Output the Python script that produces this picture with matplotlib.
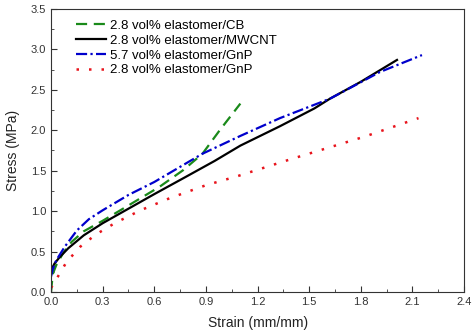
import matplotlib
matplotlib.use("Agg")
import matplotlib.pyplot as plt
from matplotlib.ticker import MultipleLocator

plt.rcParams["font.family"] = ["Liberation Sans", "DejaVu Sans"]

# strain (mm/mm) / stress (MPa)
cb_strain = [0.0, 0.01, 0.03, 0.07, 0.12, 0.19, 0.3, 0.45, 0.63, 0.77, 0.88, 0.98, 1.1]
cb_stress = [0.0, 0.22, 0.33, 0.48, 0.62, 0.75, 0.88, 1.07, 1.30, 1.51, 1.71, 2.0, 2.33]

mwcnt_strain = [0.0, 0.02, 0.05, 0.1, 0.19, 0.3, 0.4, 0.5, 0.6, 0.78, 0.95, 1.1, 1.33, 1.53, 1.62, 1.8, 2.01]
mwcnt_stress = [0.27, 0.35, 0.43, 0.54, 0.70, 0.85, 0.97, 1.09, 1.21, 1.42, 1.62, 1.81, 2.05, 2.27, 2.39, 2.60, 2.87]

gnp57_strain = [0.0, 0.01, 0.03, 0.08, 0.15, 0.22, 0.3, 0.45, 0.6, 0.88, 1.1, 1.33, 1.62, 1.91, 2.155]
gnp57_stress = [0.19, 0.28, 0.39, 0.56, 0.76, 0.90, 1.01, 1.20, 1.36, 1.71, 1.93, 2.15, 2.39, 2.72, 2.93]

gnp28_strain = [0.0, 0.02, 0.04, 0.09, 0.17, 0.26, 0.37, 0.52, 0.69, 0.9, 1.08, 1.39, 1.82, 2.135]
gnp28_stress = [0.05, 0.12, 0.19, 0.37, 0.56, 0.71, 0.85, 1.01, 1.16, 1.32, 1.43, 1.64, 1.92, 2.15]

labels = ["2.8 vol% elastomer/CB", "2.8 vol% elastomer/MWCNT",
          "5.7 vol% elastomer/GnP", "2.8 vol% elastomer/GnP"]

fig = plt.figure(figsize=(4.77, 3.34), dpi=100)
ax = fig.add_axes([0.107, 0.126, 0.866, 0.847])

ax.plot(cb_strain, cb_stress, color="#1a8a1a", lw=1.6, linestyle=(0, (5, 3)), label=labels[0])
ax.plot(mwcnt_strain, mwcnt_stress, color="black", lw=1.6, label=labels[1])
ax.plot(gnp57_strain, gnp57_stress, color="#0000cc", lw=1.6,
        linestyle=(0, (5, 1.5, 1, 1.5)), label=labels[2])
ax.plot(gnp28_strain, gnp28_stress, color="#e8141c", lw=1.8,
        linestyle=(0, (1, 4)), label=labels[3])

ax.set_xlim(0, 2.4)
ax.set_ylim(0, 3.5)
ax.xaxis.set_major_locator(MultipleLocator(0.3))
ax.xaxis.set_minor_locator(MultipleLocator(0.15))
ax.yaxis.set_major_locator(MultipleLocator(0.5))
ax.yaxis.set_minor_locator(MultipleLocator(0.25))
ax.tick_params(which="both", direction="in", labelsize=8, colors="#333333")
ax.tick_params(which="major", length=4)
ax.tick_params(which="minor", length=2.5)
for s in ax.spines.values():
    s.set_color("#333333")

ax.set_xlabel("Strain (mm/mm)", fontsize=10, color="#222222", labelpad=7)
ax.set_ylabel("Stress (MPa)", fontsize=10, color="#222222", labelpad=8)

ax.legend(loc="upper left", bbox_to_anchor=(0.035, 1.0), frameon=False, fontsize=9.5,
          handlelength=2.3, borderaxespad=0.4, labelspacing=0.2, handletextpad=0.25)

fig.savefig("out.png", dpi=100)
